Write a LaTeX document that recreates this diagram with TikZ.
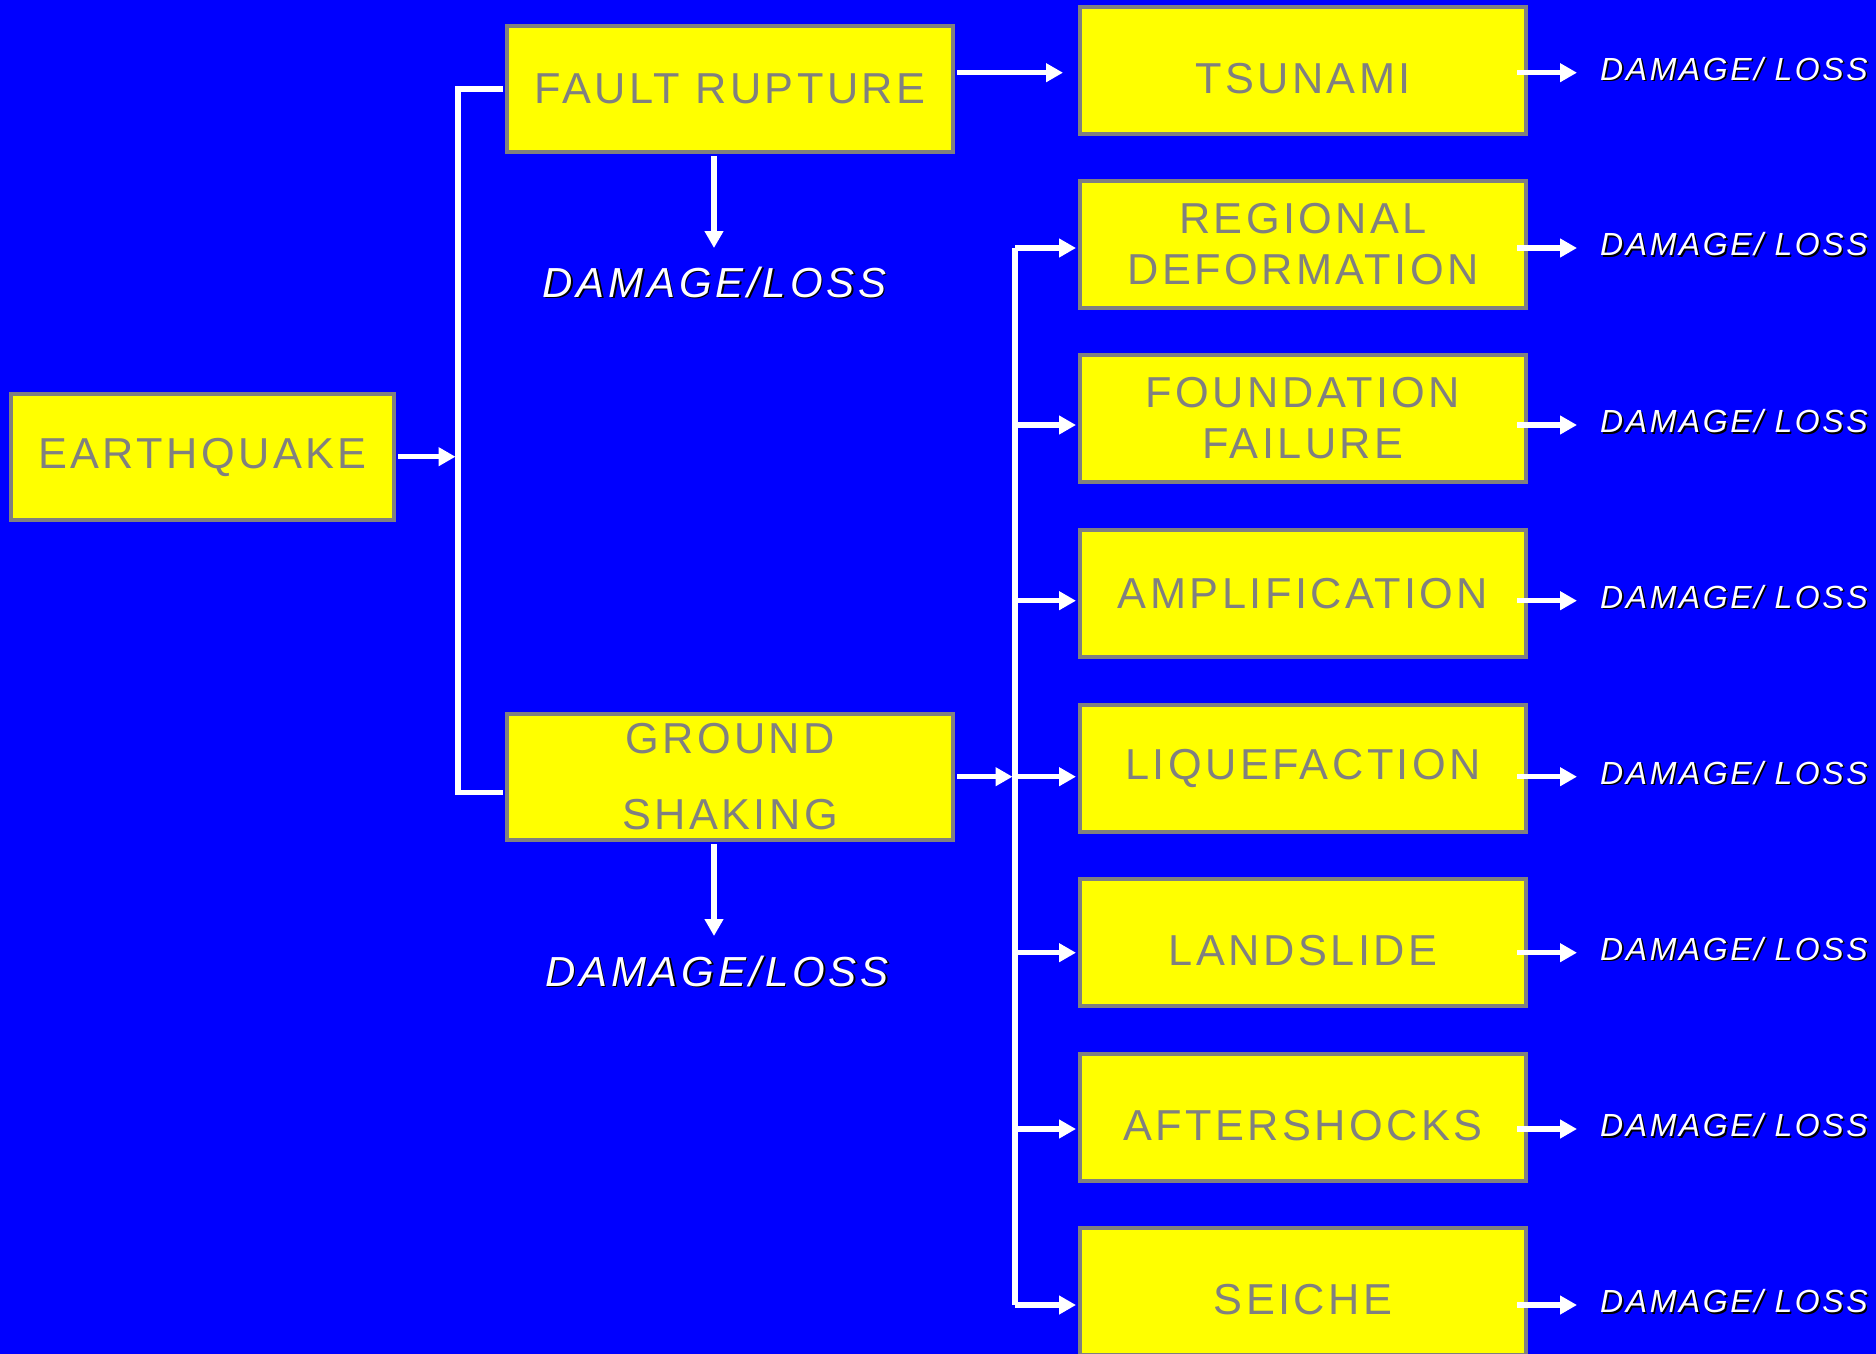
\documentclass[tikz,border=0pt]{standalone}
\usepackage{fontspec}
\setmainfont{Liberation Sans}
\newfontfamily\boxfont[LetterSpace=8]{Liberation Sans}
\newfontfamily\dmgfont[LetterSpace=8]{Liberation Sans}
\newfontfamily\dmgbigfont[LetterSpace=9]{Liberation Sans}
\usetikzlibrary{arrows.meta}
\definecolor{bgblue}{HTML}{0000FF}
\definecolor{boxfill}{HTML}{FFFF00}
\definecolor{boxgray}{HTML}{808080}
\newcommand\shadowed[1]{\rlap{\kern1.6pt\raisebox{-1.6pt}{\color{black}#1}}#1}
\newcommand\lowr[1]{\raisebox{-8.5pt}[\height][\depth]{#1}}
\begin{document}
\begin{tikzpicture}[x=1pt, y=-1pt,
  box/.style={draw=boxgray, line width=4pt, fill=boxfill, inner sep=0pt,
    minimum width=446pt, minimum height=127pt, text=boxgray,
    font=\boxfont\fontsize{43.3}{51}\selectfont, align=center},
  dmgbig/.style={text=white, inner sep=0pt, font=\dmgbigfont\itshape\fontsize{42}{50}\selectfont},
  dmgsmall/.style={text=white, inner sep=0pt, font=\dmgfont\itshape\fontsize{32}{38}\selectfont},
  wl/.style={draw=white, line width=5.5pt},
  arr/.style={draw=white, line width=5.5pt, -{Triangle[length=17pt,width=18pt]}}]
\useasboundingbox (0,0) rectangle (1876,1354);
\fill[bgblue] (0,0) rectangle (1876,1354);

% boxes
\node[box, minimum width=383pt, minimum height=126pt] (EQ) at (202.5,457) {EARTHQUAKE};
\node[box, minimum height=126pt] (FR) at (730,89) {FAULT RUPTURE};
\node[box, minimum height=126pt] (GS) at (730,777) {GROUND\\[25pt]SHAKING};
\node[box] (TSU) at (1303,70.5) {\lowr{TSUNAMI}};
\node[box] (RD) at (1303,244.5) {REGIONAL\\DEFORMATION};
\node[box] (FF) at (1303,418.5) {FOUNDATION\\FAILURE};
\node[box] (AMP) at (1303,593.5) {AMPLIFICATION};
\node[box] (LIQ) at (1303,768.5) {LIQUEFACTION};
\node[box] (LAND) at (1303,942.5) {\lowr{LANDSLIDE}};
\node[box] (AFT) at (1303,1117.5) {\lowr{AFTERSHOCKS}};
\node[box] (SEI) at (1303,1291.5) {\lowr{SEICHE}};

% junction coordinates
\coordinate (j1) at (458,456.7);
\coordinate (gsj) at (458,792.5);
\coordinate (a1) at (1063,72.7);
\coordinate (d1) at (714,248);
\coordinate (d2) at (714,936);
\coordinate (b2) at (1015,776.7);
\coordinate (b2top) at (1015,248);
\coordinate (b2bot) at (1015,1305);
\coordinate (r1) at (1577,72.7);
\coordinate (r2) at (1577,248);
\coordinate (r3) at (1577,425);
\coordinate (r4) at (1577,600.7);
\coordinate (r5) at (1577,776.7);
\coordinate (r6) at (1577,952.7);
\coordinate (r7) at (1577,1129);
\coordinate (r8) at (1577,1305);

% texts
\node[dmgbig] (DL1) at (714.5,283) {\shadowed{DAMAGE/LOSS}};
\node[dmgbig] (DL2) at (717,972) {\shadowed{DAMAGE/LOSS}};
\foreach \r/\l in {r1/L1, r2/L2, r3/L3, r4/L4, r5/L5, r6/L6, r7/L7, r8/L8}
  \node[dmgsmall, anchor=west] (\l) at ([xshift=23pt, yshift=3pt]\r) {\shadowed{DAMAGE/ LOSS}};

% connectors
\draw[arr, shorten <=2pt, shorten >=2.5pt] (EQ.east |- j1) -- (j1);
\draw[wl, shorten <=2pt, shorten >=2pt] (FR.west) -| (gsj) -- (GS.west |- gsj);
\draw[arr, shorten <=2pt] (FR.east |- a1) -- (a1);
\draw[arr, shorten <=2pt] (FR.south -| d1) -- (d1);
\draw[arr, shorten <=2pt] (GS.south -| d2) -- (d2);
\draw[arr, shorten <=2pt, shorten >=2.5pt] (GS.east |- b2) -- (b2);
\draw[wl] (b2top) -- (b2bot);
\foreach \b/\r in {RD/r2, FF/r3, AMP/r4, LIQ/r5, LAND/r6, AFT/r7, SEI/r8}
  \draw[arr, shorten >=2pt] (b2top |- \r) -- (\b.west |- \r);
\foreach \b/\r in {TSU/r1, RD/r2, FF/r3, AMP/r4, LIQ/r5, LAND/r6, AFT/r7, SEI/r8}
  \draw[arr, shorten <=-11pt] (\b.east |- \r) -- (\r);
\end{tikzpicture}
\end{document}
